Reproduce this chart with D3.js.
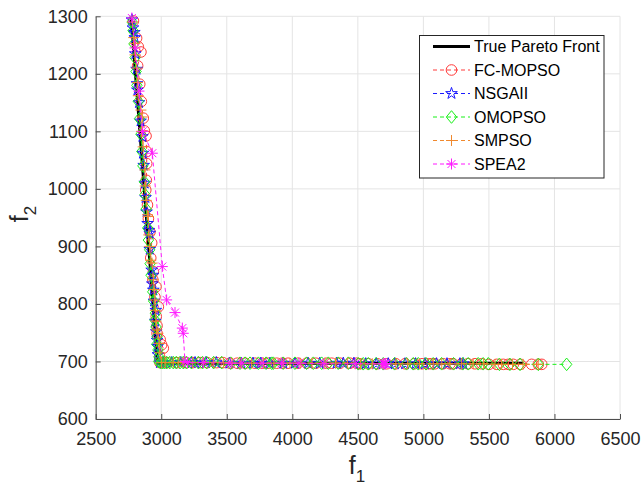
<!DOCTYPE html>
<html>
<head>
<meta charset="utf-8">
<script src="https://cdn.jsdelivr.net/npm/d3@7"></script>
<style>
  html, body { margin: 0; padding: 0; background: #fff; }
  svg { display: block; font-family: "Liberation Sans", Arial, Helvetica, sans-serif; }
</style>
</head>
<body>
<svg id="chart" width="642" height="488"></svg>
<script>
// Axis ticks
const xTicks = [2500, 3000, 3500, 4000, 4500, 5000, 5500, 6000, 6500];
const yTicks = [600, 700, 800, 900, 1000, 1100, 1200, 1300];

// True Pareto front (f1, f2)
const trueFront = [[2770, 1300], [2972, 697], [5762, 697]];

// FC-MOPSO solutions (f1, f2)
const fcMopso = [
  [2788,1292],[2812,1262],[2825,1247],[2845,1238],[2820,1214],[2836,1182],[2848,1152],[2863,1123],
  [2871,1101],[2884,1092],[2889,1065],[2889,1044],[2886,1015],[2882,998],[2895,972],[2902,948],
  [2914,925],[2927,906],[2920,880],[2940,856],[2936,842],[2960,830],[2952,812],[2978,795],
  [2962,778],[2968,762],[2968,749],[2992,738],[3003,729],[3016,723],[2988,708],
  [2990,698],[3005,698],[3045,698],[3120,698],[3190,698],[3240,698],[3296,698],[3350,698],
  [3423,698],[3470,698],[3525,697],[3580,697],[3640,697],[3716,697],[3770,697],[3815,697],
  [3881,697],[3925,697],[3967,697],[4043,697],[4110,697],[4180,697],[4261,697],[4300,697],
  [4364,697],[4440,697],[4491,697],[4516,696],[4580,696],[4650,696],[4720,696],[4790,696],
  [4860,696],[4930,696],[4990,696],[5037,696],[5063,696],[5088,696],[5150,696],[5203,696],
  [5226,696],[5290,696],[5340,696],[5394,696],[5445,696],[5500,695],[5560,695],[5610,695],
  [5648,695],[5686,695],[5740,695],[5826,695],[5877,695],[5903,695]
];

// NSGAII solutions (f1, f2)
const nsga2 = [
  [2776,1294],[2784,1280],[2795,1272],[2798,1263],[2802,1235],[2812,1208],[2815,1183],[2818,1172],
  [2830,1150],[2842,1118],[2856,1091],[2860,1062],[2866,1041],[2874,1010],[2880,985],[2888,960],
  [2896,940],[2905,928],[2912,923],[2912,895],[2927,859],[2936,850],[2932,835],[2940,824],
  [2945,805],[2958,789],[2955,770],[2962,752],[2968,737],[2972,726],[2975,712],
  [2990,698],[3016,698],[3080,698],[3150,698],[3232,698],[3258,698],[3340,698],[3420,698],
  [3520,697],[3610,697],[3700,697],[3760,697],[3830,697],[3931,697],[4020,697],[4120,697],
  [4210,697],[4338,697],[4389,697],[4470,697],[4560,696],[4640,696],[4732,696],[4783,696],
  [4860,696],[4940,696],[5012,696],[5100,696],[5180,696],[5279,696],[5305,696]
];

// OMOPSO solutions (f1, f2)
const omopso = [
  [2778,1290],[2785,1275],[2792,1252],[2800,1228],[2808,1204],[2814,1180],[2826,1152],[2834,1122],
  [2845,1095],[2852,1065],[2860,1040],[2872,1012],[2876,990],[2885,965],[2897,932],[2902,911],
  [2912,894],[2915,870],[2922,850],[2935,821],[2942,805],[2955,784],[2952,772],[2960,760],
  [2968,743],[2966,730],[2975,720],[2982,708],[2980,700],
  [2995,698],[3010,698],[3025,698],[3041,698],[3065,698],[3092,698],[3115,698],[3143,698],
  [3168,698],[3194,698],[3230,698],[3283,698],[3315,698],[3347,698],[3400,698],[3461,698],
  [3530,697],[3601,697],[3640,697],[3677,697],[3741,697],[3800,697],[3843,697],[3855,697],
  [3930,697],[4020,697],[4109,697],[4160,697],[4224,697],[4275,697],[4350,697],[4427,697],
  [4503,696],[4541,696],[4580,696],[4640,696],[4694,696],[4780,696],[4872,696],[4923,696],
  [4961,696],[5020,696],[5075,696],[5139,696],[5230,696],[5300,696],[5342,696],[5418,696],
  [5456,696],[5495,696],[5580,695],[5660,695],[5737,695],[5877,695],[6093,695]
];

// SMPSO solutions (f1, f2)
const smpso = [
  [2780,1290],[2790,1263],[2800,1253],[2800,1233],[2812,1210],[2818,1185],[2825,1162],[2845,1137],
  [2855,1125],[2850,1100],[2862,1073],[2876,1033],[2878,1005],[2886,980],[2895,955],[2902,952],
  [2905,920],[2912,900],[2920,876],[2930,871],[2940,842],[2946,825],[2952,807],[2955,789],
  [2960,770],[2965,755],[2975,749],[2985,731],[2990,715],[3003,698],
  [3030,698],[3092,698],[3130,698],[3168,698],[3240,698],[3320,698],[3400,698],[3474,698],
  [3540,697],[3601,697],[3690,697],[3780,697],[3860,697],[3931,697],[3982,697],[4060,697],
  [4150,697],[4249,697],[4330,697],[4420,697],[4520,696],[4610,696],[4694,696],[4790,696],
  [4880,696],[4970,696],[5075,696],[5140,696],[5203,696],[5290,696],[5380,696],[5460,696],
  [5546,695],[5597,695],[5680,695],[5760,695],[5876,695]
];

// SPEA2 solutions (f1, f2)
const spea2 = [
  [2776,1297],[2800,1245],[2830,1170],[2858,1100],[2932,1062],[3008,865],[3041,807],[3105,785],
  [3161,758],[3168,749],[3181,700],[3200,698],[3321,698],[3525,697],[3614,697],[3769,697],
  [3919,697],[4050,697],[4240,696],[4480,696],[4690,696],[4700,696],[4707,696],[4712,696]
];

const W = 642, H = 488;
const x = d3.scaleLinear().domain([2500, 6500]).range([95.7, 620]);
const y = d3.scaleLinear().domain([600, 1300]).range([419, 16.3]);

const svg = d3.select("#chart");
svg.append("rect").attr("width", W).attr("height", H).attr("fill", "#fff");

// Grid
const grid = svg.append("g").attr("stroke", "#e4e4e4").attr("stroke-width", 1);
grid.selectAll("line.gx").data(xTicks).join("line").attr("class", "gx")
  .attr("x1", d => x(d)).attr("x2", d => x(d)).attr("y1", y(600)).attr("y2", y(1300));
grid.selectAll("line.gy").data(yTicks).join("line").attr("class", "gy")
  .attr("x1", x(2500)).attr("x2", x(6500)).attr("y1", d => y(d)).attr("y2", d => y(d));

// Axes (left and bottom only, ticks pointing inward)
const axisColor = "#4d4d4d";
const xAxis = svg.append("g").attr("transform", `translate(0,${y(600)})`)
  .call(d3.axisBottom(x).tickValues(xTicks).tickFormat(d3.format("d"))
    .tickSizeInner(-5).tickSizeOuter(0).tickPadding(13));
const yAxis = svg.append("g").attr("transform", `translate(${x(2500)},0)`)
  .call(d3.axisLeft(y).tickValues(yTicks).tickFormat(d3.format("d"))
    .tickSizeInner(-5).tickSizeOuter(0).tickPadding(8));
[xAxis, yAxis].forEach(a => {
  a.select(".domain").attr("stroke", axisColor);
  a.selectAll(".tick line").attr("stroke", axisColor);
  a.selectAll(".tick text").attr("fill", "#262626").style("font-size", "18px")
    .style("font-family", '"Liberation Sans", Arial, sans-serif');
});

// Axis titles
const xt = svg.append("text").attr("x", 357).attr("y", 474).attr("text-anchor", "middle")
  .attr("fill", "#262626").style("font-size", "25px");
xt.append("tspan").text("f");
xt.append("tspan").attr("dy", 8).style("font-size", "17px").text("1");

const yt = svg.append("text").attr("transform", "translate(28,214) rotate(-90)")
  .attr("text-anchor", "middle").attr("fill", "#262626").style("font-size", "25px");
yt.append("tspan").text("f");
yt.append("tspan").attr("dy", 8).style("font-size", "17px").text("2");

// Marker shapes
const markerPath = {
  circle: () => d3.symbol(d3.symbolCircle, Math.PI * 5.3 * 5.3)(),
  star: () => d3.symbol(d3.symbolStar, 42)(),
  diamond: () => "M0,-6.3L5.2,0L0,6.3L-5.2,0Z",
  plus: () => "M-5.5,0H5.5M0,-5.5V5.5",
  asterisk: () => "M-5.5,0H5.5M0,-5.5V5.5M-4,-4L4,4M-4,4L4,-4"
};

const series = [
  { name: "FC-MOPSO", data: fcMopso, color: "#ff3b3b", marker: "circle" },
  { name: "NSGAII",   data: nsga2,   color: "#1a1aff", marker: "star" },
  { name: "OMOPSO",   data: omopso,  color: "#19f019", marker: "diamond" },
  { name: "SMPSO",    data: smpso,   color: "#f0892e", marker: "plus" },
  { name: "SPEA2",    data: spea2,   color: "#ff19ff", marker: "asterisk" }
];

const line = d3.line().x(d => x(d[0])).y(d => y(d[1]));

// True Pareto front
svg.append("path").datum(trueFront).attr("d", line)
  .attr("fill", "none").attr("stroke", "#000").attr("stroke-width", 3);

// Algorithm fronts
series.forEach(s => {
  const g = svg.append("g");
  g.append("path").datum(s.data).attr("d", line)
    .attr("fill", "none").attr("stroke", s.color).attr("stroke-width", 1)
    .attr("stroke-dasharray", "4,3");
  g.selectAll("path.m").data(s.data).join("path").attr("class", "m")
    .attr("transform", d => `translate(${x(d[0])},${y(d[1])})`)
    .attr("d", markerPath[s.marker]())
    .attr("fill", "none").attr("stroke", s.color).attr("stroke-width", 1);
});

// Legend
const lg = svg.append("g");
lg.append("rect").attr("x", 419.5).attr("y", 35.5).attr("width", 184.5).attr("height", 142.5)
  .attr("fill", "#fff").attr("stroke", "#262626").attr("stroke-width", 1);
const rowY = i => 46.5 + i * 23.5;
const entries = [{ name: "True Pareto Front", color: "#000", front: true }].concat(series);
entries.forEach((e, i) => {
  const yy = rowY(i);
  if (e.front) {
    lg.append("line").attr("x1", 433).attr("x2", 470).attr("y1", yy).attr("y2", yy)
      .attr("stroke", "#000").attr("stroke-width", 3);
  } else {
    lg.append("line").attr("x1", 433).attr("x2", 470).attr("y1", yy).attr("y2", yy)
      .attr("stroke", e.color).attr("stroke-width", 1).attr("stroke-dasharray", "4,3");
    lg.append("path").attr("transform", `translate(451.5,${yy})`)
      .attr("d", markerPath[e.marker]()).attr("fill", "none")
      .attr("stroke", e.color).attr("stroke-width", 1);
  }
  lg.append("text").attr("x", 474).attr("y", yy).attr("dy", "0.36em")
    .attr("fill", "#000").style("font-size", "16px").text(e.name);
});
</script>
</body>
</html>
